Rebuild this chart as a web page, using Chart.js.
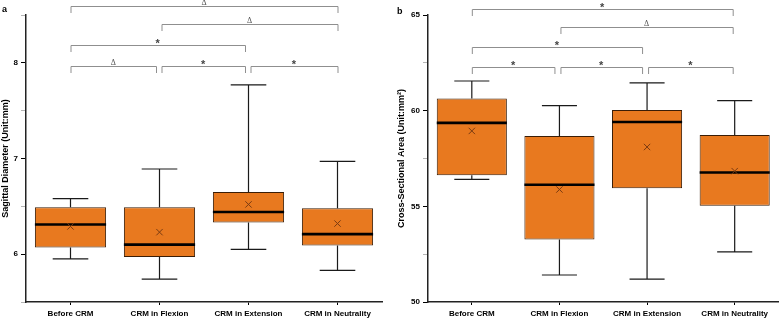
<!DOCTYPE html>
<html><head><meta charset="utf-8">
<script src="https://cdn.jsdelivr.net/npm/chart.js@4/dist/chart.umd.min.js"></script>
<style>
html,body{margin:0;padding:0;background:#fff;}
#wrap{position:relative;width:784px;height:320px;overflow:hidden;background:#fff}
canvas{position:absolute;top:0}
</style></head><body>
<div id="wrap">
<canvas id="ca" width="392" height="320" style="left:0;width:392px;height:320px"></canvas>
<canvas id="cb" width="392" height="320" style="left:392px;width:392px;height:320px"></canvas>
</div>
<script>
const categories = ['Before CRM','CRM in Flexion','CRM in Extension','CRM in Neutrality'];
// panel a: Sagittal Diameter (mm)
const sagMin    = [5.95, 5.74, 6.05, 5.83];
const sagQ1     = [6.07, 5.97, 6.33, 6.09];
const sagMedian = [6.31, 6.10, 6.44, 6.21];
const sagQ3     = [6.49, 6.49, 6.65, 6.48];
const sagMax    = [6.58, 6.89, 7.77, 6.97];
const sagMean   = [6.29, 6.23, 6.52, 6.32];
// panel b: Cross-Sectional Area (mm2)
const csaMin    = [56.41, 51.41, 51.20, 52.62];
const csaQ1     = [56.63, 53.27, 55.94, 55.03];
const csaMedian = [59.36, 56.13, 59.41, 56.77];
const csaQ3     = [60.63, 58.68, 60.04, 58.73];
const csaMax    = [61.55, 60.26, 61.45, 60.52];
const csaMean   = [58.94, 55.88, 58.10, 56.84];
const sagTickLabels = [6, 7, 8];
const csaTickLabels = [50, 55, 60, 65];
// significance comparisons (category index pairs) and their symbols
const compPairs  = [[0,3],[1,3],[0,2],[0,1],[1,2],[2,3]];
const sagSymbols = ['Δ','Δ','*','Δ','*','*'];
const csaSymbols = ['*','Δ','*','*','*','*'];

const FONT = '"Liberation Sans", Arial, sans-serif';

const boxPlugin = {
  id: 'boxExtras',
  afterDatasetDraw(chart, args, opts) {
    if (args.index !== 0) return;
    const ctx = chart.ctx, x = chart.scales.x, y = chart.scales.y;
    const meta = chart.getDatasetMeta(0);
    ctx.save();
    meta.data.forEach((bar, i) => {
      const cx = x.getPixelForValue(i);
      const w = bar.width;
      const capW = w / 2;
      const yMin = y.getPixelForValue(opts.min[i]);
      const yMax = y.getPixelForValue(opts.max[i]);
      const yQ1 = y.getPixelForValue(opts.q1[i]);
      const yQ3 = y.getPixelForValue(opts.q3[i]);
      const yMed = y.getPixelForValue(opts.median[i]);
      ctx.strokeStyle = '#1a1a1a';
      ctx.lineWidth = 1.2;
      ctx.beginPath();
      ctx.moveTo(cx, yQ3); ctx.lineTo(cx, yMax);
      ctx.moveTo(cx - capW/2, yMax); ctx.lineTo(cx + capW/2, yMax);
      ctx.moveTo(cx, yQ1); ctx.lineTo(cx, yMin);
      ctx.moveTo(cx - capW/2, yMin); ctx.lineTo(cx + capW/2, yMin);
      ctx.stroke();
      ctx.strokeStyle = '#000';
      ctx.lineWidth = 2.6;
      ctx.beginPath();
      ctx.moveTo(cx - w/2, yMed); ctx.lineTo(cx + w/2, yMed);
      ctx.stroke();
    });
    ctx.restore();
  },
  afterDraw(chart, args, opts) {
    const ctx = chart.ctx, x = chart.scales.x;
    ctx.save();
    opts.pairs.forEach((p, k) => {
      const a = p[0], b = p[1];
      const x1 = x.getPixelForValue(a) + (a > 0 ? opts.insetL : 0);
      const x2 = x.getPixelForValue(b) - (b < 3 ? opts.insetR : opts.insetEnd);
      const ly = opts.rows[k];
      ctx.strokeStyle = '#8f8f8f';
      ctx.lineWidth = 1;
      ctx.beginPath();
      ctx.moveTo(x1 + 0.5, ly + opts.leg);
      ctx.lineTo(x1 + 0.5, ly + 0.5);
      ctx.lineTo(x2 + 0.5, ly + 0.5);
      ctx.lineTo(x2 + 0.5, ly + opts.leg);
      ctx.stroke();
      const s = opts.symbols[k];
      ctx.textAlign = 'center';
      ctx.textBaseline = 'alphabetic';
      if (s === '*') {
        ctx.fillStyle = '#444';
        ctx.font = 'bold 11px ' + FONT;
        ctx.fillText(s, (x1 + x2) / 2, ly + 2);
      } else {
        ctx.fillStyle = '#555';
        ctx.font = '8px "Liberation Serif", serif';
        ctx.fillText(s, (x1 + x2) / 2, ly - 1.5);
      }
    });
    ctx.fillStyle = '#000';
    ctx.font = 'bold 9px ' + FONT;
    ctx.textAlign = 'left';
    ctx.textBaseline = 'middle';
    ctx.fillText(opts.label, opts.labelX, opts.labelY);
    ctx.restore();
  }
};

function makeChart(id, cfg) {
  const boxes = cfg.q1.map((v, i) => [v, cfg.q3[i]]);
  return new Chart(document.getElementById(id), {
    data: {
      labels: categories,
      datasets: [
        { type: 'bar', data: boxes, order: 2,
          backgroundColor: '#E8791F', borderColor: '#3a1d06', borderWidth: 1,
          borderSkipped: false, barPercentage: 0.8, categoryPercentage: 1.0 },
        { type: 'line', data: cfg.mean, order: 1, showLine: false,
          pointStyle: 'crossRot', pointRadius: 4.5, pointBorderWidth: 1,
          pointBorderColor: '#7a3b12', pointBackgroundColor: '#7a3b12' }
      ]
    },
    options: {
      responsive: false, animation: false, devicePixelRatio: 1,
      layout: { padding: { left: 0, right: cfg.padRight, top: 15, bottom: 0 } },
      plugins: {
        legend: { display: false }, tooltip: { enabled: false },
        boxExtras: {
          min: cfg.min, max: cfg.max, q1: cfg.q1, q3: cfg.q3, median: cfg.median,
          pairs: compPairs, symbols: cfg.symbols, rows: cfg.rows, leg: 7,
          insetL: cfg.insetL, insetR: cfg.insetR, insetEnd: cfg.insetEnd,
          label: cfg.label, labelX: cfg.labelX, labelY: cfg.labelY
        }
      },
      scales: {
        x: {
          type: 'category', offset: true,
          grid: { display: true, drawOnChartArea: false, offset: false, tickLength: 3, tickColor: '#000', tickWidth: 1 },
          border: { color: '#222', width: 1.5 },
          ticks: { color: '#000', font: { family: FONT, size: 8, weight: 'bold' }, padding: 4, maxRotation: 0, autoSkip: false },
          afterFit: s => { s.height = 18; }
        },
        y: {
          type: 'linear', min: cfg.yMin, max: cfg.yMax,
          grid: { display: true, drawOnChartArea: false, tickLength: 5,
                  tickColor: c => (c.tick && cfg.tickLabels.includes(c.tick.value)) ? '#000' : '#b5b5b5', tickWidth: 1 },
          border: { color: '#222', width: 1.5 },
          ticks: { stepSize: cfg.step, autoSkip: false, color: '#000', padding: 3,
                   font: { family: FONT, size: 8, weight: 'bold' },
                   callback: v => cfg.tickLabels.includes(v) ? String(v) : '' },
          title: { display: true, text: cfg.title, color: '#000',
                   font: { family: FONT, size: 9, weight: 'bold' }, padding: { top: cfg.titlePad, bottom: 0 } },
          afterFit: s => { s.width = cfg.axisW; }
        }
      }
    },
    plugins: [boxPlugin]
  });
}

makeChart('ca', {
  q1: sagQ1, q3: sagQ3, min: sagMin, max: sagMax, median: sagMedian, mean: sagMean,
  yMin: 5.5, yMax: 8.5, step: 0.5, tickLabels: sagTickLabels,
  title: 'Sagittal Diameter (Unit:mm)', titlePad: 0, axisW: 26, padRight: 10,
  symbols: sagSymbols, rows: [6, 24, 45, 66, 66, 66], insetL: 2, insetR: 3.5, insetEnd: 0,
  label: 'a', labelX: 2, labelY: 10
});
makeChart('cb', {
  q1: csaQ1, q3: csaQ3, min: csaMin, max: csaMax, median: csaMedian, mean: csaMean,
  yMin: 50, yMax: 65, step: 2.5, tickLabels: csaTickLabels,
  title: 'Cross-Sectional Area (Unit:mm²)', titlePad: 4.5, axisW: 36, padRight: 0,
  symbols: csaSymbols, rows: [9, 27, 47, 67, 67, 67], insetL: 1, insetR: 5, insetEnd: 2,
  label: 'b', labelX: 5, labelY: 12
});
</script>
</body></html>
